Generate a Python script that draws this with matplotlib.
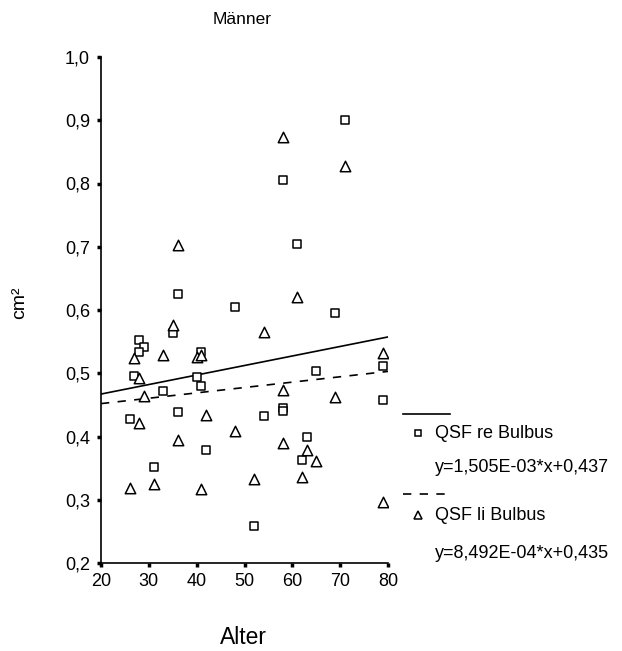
import numpy as np
import matplotlib
matplotlib.use("Agg")
import matplotlib.pyplot as plt
from matplotlib.lines import Line2D

plt.rcParams['font.family'] = ['Liberation Sans', 'DejaVu Sans']

# Data: QSF re Bulbus (squares)
age_re = [36, 48, 35, 28, 29, 28, 41, 27, 40, 41, 33, 36, 26, 42, 31, 52, 54,
          69, 65, 79, 79, 58, 58, 63, 62, 71, 58, 61]
qsf_re = [0.626, 0.604, 0.564, 0.553, 0.542, 0.534, 0.533, 0.495, 0.494, 0.480,
          0.472, 0.438, 0.427, 0.379, 0.351, 0.259, 0.433, 0.596, 0.504, 0.511,
          0.458, 0.445, 0.440, 0.400, 0.363, 0.900, 0.806, 0.705]

# Data: QSF li Bulbus (triangles)
age_li = [35, 27, 33, 40, 41, 28, 29, 42, 28, 48, 36, 26, 31, 41, 52, 54, 36,
          58, 71, 61, 79, 58, 69, 58, 63, 65, 62, 79]
qsf_li = [0.576, 0.524, 0.529, 0.526, 0.529, 0.492, 0.464, 0.434, 0.422, 0.409,
          0.394, 0.319, 0.325, 0.317, 0.333, 0.566, 0.703, 0.874, 0.827, 0.620,
          0.532, 0.474, 0.463, 0.389, 0.379, 0.361, 0.336, 0.297]

# Regression parameters
slope_re, icpt_re = 1.505e-03, 0.437
slope_li, icpt_li = 8.492e-04, 0.435

x_ticks = [20, 30, 40, 50, 60, 70, 80]
y_ticks = [0.2, 0.3, 0.4, 0.5, 0.6, 0.7, 0.8, 0.9, 1.0]
y_ticklabels = ["0,2", "0,3", "0,4", "0,5", "0,6", "0,7", "0,8", "0,9", "1,0"]

W, H = 622, 651
fig = plt.figure(figsize=(W / 100, H / 100), dpi=100)
ax = fig.add_axes([101 / W, 1 - 563 / H, 287 / W, 506 / H])

ax.scatter(age_re, qsf_re, marker='s', s=5.2**2, facecolors='white',
           edgecolors='black', linewidths=1.1, zorder=3)
ax.scatter(age_li, qsf_li, marker='^', s=7.5**2, facecolors='white',
           edgecolors='black', linewidths=1.1, zorder=3)

xl = np.array([20, 80])
ax.plot(xl, slope_re * xl + icpt_re, color='black', lw=1.2, zorder=2)
ax.plot(xl, slope_li * xl + icpt_li, color='black', lw=1.2,
        dashes=(5, 5), zorder=2)

ax.set_xlim(20, 80)
ax.set_ylim(0.2, 1.0)
ax.set_xticks(x_ticks)
ax.set_xticklabels([str(v) for v in x_ticks])
ax.set_yticks(y_ticks)
ax.set_yticklabels(y_ticklabels)
for s in ['top', 'right']:
    ax.spines[s].set_visible(False)
for s in ['left', 'bottom']:
    ax.spines[s].set_linewidth(1.2)
ax.tick_params(axis='both', direction='out', length=3, width=2.5,
               labelsize=13)
ax.tick_params(axis='y', pad=5)
ax.tick_params(axis='x', pad=4)

fig.text(242 / W, 1 - 20 / H, "Männer", ha='center', va='center', fontsize=12.5)
fig.text(243 / W, 1 - 638 / H, "Alter", ha='center', va='center', fontsize=16.5)
fig.text(20 / W, 1 - 303 / H, "cm²", ha='center', va='center', rotation=90,
         fontsize=14)

# Legend
def fx(px):
    return px / W

def fy(py):
    return 1 - py / H

fig.add_artist(Line2D([fx(403), fx(450)], [fy(414), fy(414)], color='black',
                      lw=1.2, transform=fig.transFigure))
fig.add_artist(Line2D([fx(418)], [fy(433)], marker='s', markersize=5,
                      markerfacecolor='white', markeredgecolor='black',
                      markeredgewidth=1.1, transform=fig.transFigure))
fig.text(fx(435), fy(433), "QSF re Bulbus", ha='left', va='center', fontsize=13)
fig.text(fx(435), fy(468), "y=1,505E-03*x+0,437", ha='left', va='center',
         fontsize=13)
fig.add_artist(Line2D([fx(403), fx(450)], [fy(494), fy(494)], color='black',
                      lw=1.2, dashes=(5, 5), transform=fig.transFigure))
fig.add_artist(Line2D([fx(418)], [fy(515)], marker='^', markersize=6,
                      markerfacecolor='white', markeredgecolor='black',
                      markeredgewidth=1.1, transform=fig.transFigure))
fig.text(fx(435), fy(515), "QSF li Bulbus", ha='left', va='center', fontsize=13)
fig.text(fx(435), fy(553), "y=8,492E-04*x+0,435", ha='left', va='center',
         fontsize=13)

fig.savefig("out.png", dpi=100)
